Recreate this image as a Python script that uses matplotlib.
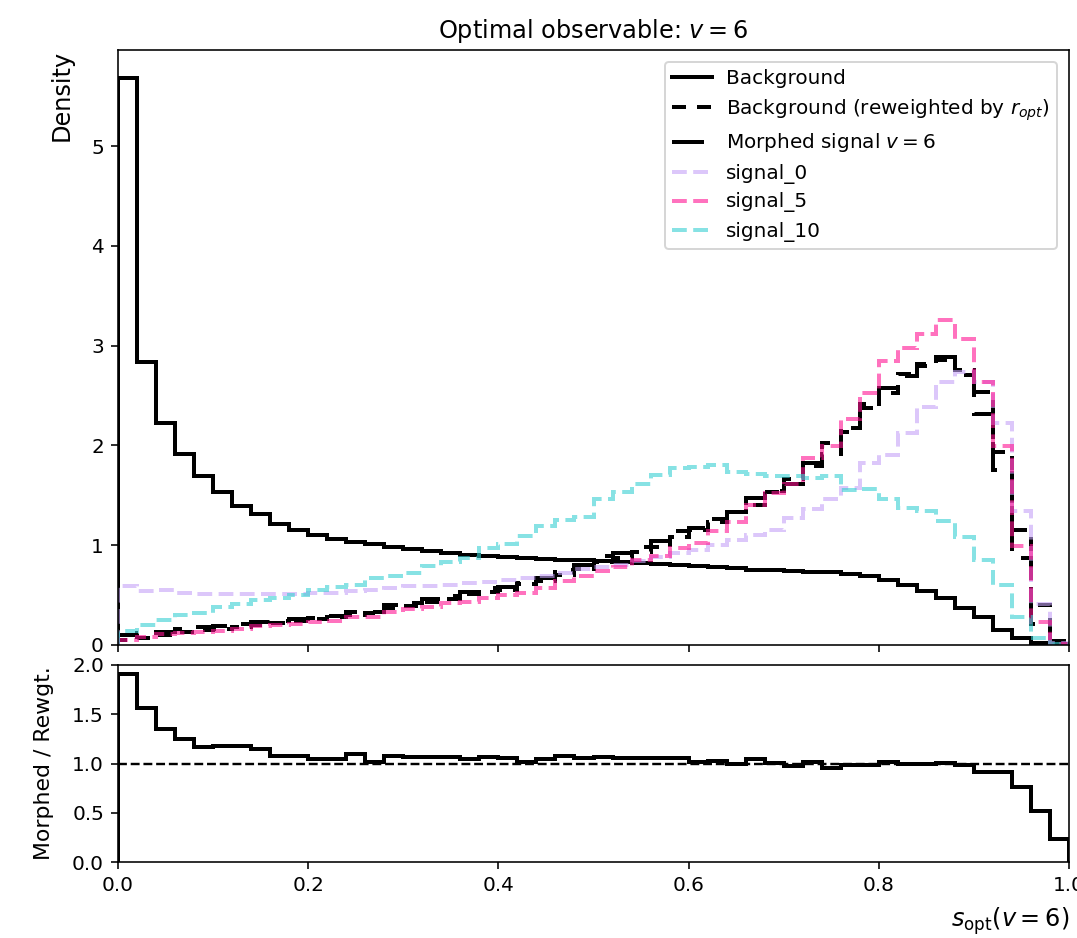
import numpy as np
import matplotlib
matplotlib.use("Agg")
import matplotlib.pyplot as plt

# ---------------- data (50 bins on [0, 1]) ----------------
bin_edges = np.linspace(0.0, 1.0, 51)

background = [5.68, 2.84, 2.23, 1.91, 1.69, 1.53, 1.39, 1.31, 1.21, 1.15,
              1.10, 1.06, 1.03, 1.01, 0.98, 0.96, 0.94, 0.92, 0.90, 0.895,
              0.885, 0.875, 0.865, 0.855, 0.85, 0.84, 0.83, 0.82, 0.81, 0.80,
              0.79, 0.78, 0.77, 0.755, 0.75, 0.74, 0.73, 0.735, 0.71, 0.69,
              0.65, 0.60, 0.54, 0.47, 0.37, 0.28, 0.15, 0.07, 0.02, 0.01]

background_rewgt = [0.05, 0.075, 0.10, 0.13, 0.15, 0.16, 0.18, 0.20, 0.22, 0.24,
                    0.26, 0.28, 0.30, 0.32, 0.37, 0.39, 0.43, 0.46, 0.51, 0.53,
                    0.55, 0.61, 0.64, 0.70, 0.76, 0.83, 0.87, 0.93, 0.98, 1.08,
                    1.15, 1.23, 1.33, 1.40, 1.53, 1.66, 1.79, 2.02, 2.18, 2.42,
                    2.53, 2.72, 2.82, 2.86, 2.76, 2.54, 1.93, 1.15, 0.40, 0.043]

morphed_signal = [0.0955, 0.117, 0.135, 0.1625, 0.1755, 0.1888, 0.2124, 0.230, 0.2376, 0.2592,
                  0.273, 0.294, 0.330, 0.3264, 0.3996, 0.4173, 0.4601, 0.4922, 0.5355, 0.5671,
                  0.583, 0.6222, 0.672, 0.756, 0.8056, 0.8881, 0.9222, 0.9858, 1.0388, 1.1448,
                  1.173, 1.2669, 1.33, 1.47, 1.5453, 1.6102, 1.8258, 1.919, 2.1364, 2.3716,
                  2.5806, 2.6928, 2.7918, 2.8886, 2.7048, 2.3114, 1.7563, 0.874, 0.208, 0.0099]

signal_0 = [0.59, 0.54, 0.55, 0.52, 0.51, 0.51, 0.51, 0.51, 0.51, 0.51,
            0.52, 0.52, 0.54, 0.55, 0.57, 0.59, 0.59, 0.60, 0.62, 0.63,
            0.65, 0.67, 0.69, 0.72, 0.76, 0.78, 0.80, 0.84, 0.88, 0.92,
            0.95, 1.00, 1.05, 1.10, 1.15, 1.27, 1.36, 1.46, 1.57, 1.82,
            1.90, 2.12, 2.39, 2.64, 2.74, 2.64, 2.23, 1.34, 0.41, 0.02]

signal_5 = [0.05, 0.08, 0.11, 0.12, 0.13, 0.14, 0.16, 0.19, 0.20, 0.21,
            0.23, 0.24, 0.28, 0.28, 0.33, 0.36, 0.38, 0.42, 0.43, 0.47,
            0.50, 0.52, 0.57, 0.64, 0.69, 0.74, 0.78, 0.85, 0.89, 0.97,
            1.02, 1.14, 1.23, 1.40, 1.52, 1.61, 1.87, 1.99, 2.27, 2.53,
            2.85, 2.98, 3.12, 3.26, 3.07, 2.64, 1.99, 0.99, 0.23, 0.01]

signal_10 = [0.14, 0.20, 0.25, 0.30, 0.32, 0.38, 0.41, 0.45, 0.47, 0.50,
             0.55, 0.58, 0.60, 0.67, 0.69, 0.72, 0.79, 0.83, 0.87, 0.97,
             1.01, 1.09, 1.19, 1.25, 1.28, 1.46, 1.53, 1.61, 1.70, 1.77,
             1.78, 1.80, 1.73, 1.71, 1.69, 1.69, 1.67, 1.69, 1.55, 1.56,
             1.46, 1.37, 1.34, 1.24, 1.08, 0.85, 0.60, 0.28, 0.07, 0.01]

signal_names = ["signal_0", "signal_5", "signal_10"]
signal_colors = ["#c5a3f7", "#ff1493", "#37d0d2"]

# ---------------- figure ----------------
W, H, DPI = 1077, 938, 144
fig = plt.figure(figsize=(W / DPI, H / DPI), dpi=DPI)

x0 = 118 / W
wd = (1069 - 118) / W
ax = fig.add_axes([x0, 1 - 645 / H, wd, (645 - 50) / H])
axr = fig.add_axes([x0, 1 - 862 / H, wd, (862 - 665) / H], sharex=ax)

ax.stairs(background, bin_edges, color="black", lw=2, label="Background")
ax.stairs(background_rewgt, bin_edges, color="black", lw=2,
          linestyle=(0, (3.5, 2.75)),
          label=r"Background (reweighted by $r_{opt}$)")
ax.stairs(morphed_signal, bin_edges, color="black", lw=2,
          linestyle=(0, (8, 4)), label=r"Morphed signal $v=6$")
for vals, name, col in zip([signal_0, signal_5, signal_10], signal_names, signal_colors):
    ax.stairs(vals, bin_edges, color=col, lw=2, alpha=0.6,
              linestyle="--", label=name)

ax.set_xlim(0, 1)
ax.set_ylim(bottom=0)
ax.set_ylabel("Density", loc="top", fontsize=12, labelpad=9)
ax.set_title(r"Optimal observable: $v = 6$")
ax.tick_params(labelbottom=False)
ax.legend(loc="upper right", labelspacing=0.45, borderaxespad=0.6,
          handletextpad=0.7, borderpad=0.35)

ratio = np.array(morphed_signal) / np.array(background_rewgt)
axr.stairs(ratio, bin_edges, color="black", lw=2)
axr.axhline(1.0, color="black", lw=1.2, linestyle="--")
axr.set_ylim(0, 2)
axr.set_yticks([0.0, 0.5, 1.0, 1.5, 2.0])
axr.set_xlim(0, 1)
axr.set_ylabel("Morphed / Rewgt.", fontsize=11, labelpad=9)
axr.set_xlabel(r"$s_{\rm opt}(v=6)$", loc="right", fontsize=12, labelpad=5)

fig.savefig("out.png", dpi=DPI)
